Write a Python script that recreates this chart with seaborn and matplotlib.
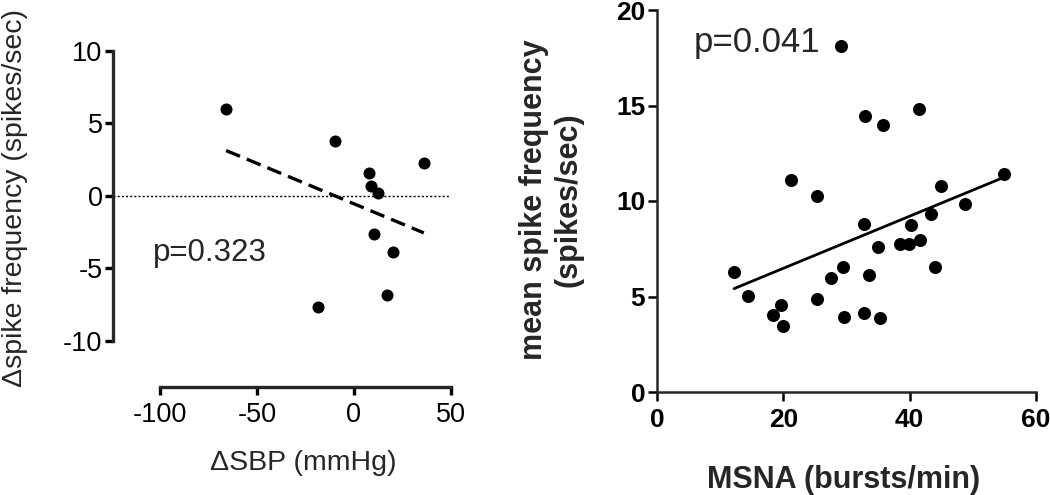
import numpy as np
import pandas as pd
import matplotlib
matplotlib.use("Agg")
import matplotlib.pyplot as plt
import seaborn as sns

# ---- data ----
sbp_change = [-65.9, -10.0, 7.7, 8.8, 12.2, 36.0, 10.1, 20.1, 17.0, -18.8]
spike_change = [6.01, 3.82, 1.59, 0.69, 0.18, 2.24, -2.65, -3.85, -6.84, -7.65]

msna = [29.1, 33.0, 35.8, 41.5, 55.0, 45.0, 48.75, 21.2, 25.3, 32.7,
        40.2, 43.4, 41.7, 38.4, 39.9, 35.0, 44.0, 29.5, 33.5, 27.6,
        12.2, 14.4, 25.3, 19.7, 18.4, 19.9, 29.6, 32.7, 35.3]
mean_spike = [18.1, 14.47, 13.99, 14.81, 11.43, 10.79, 9.83, 11.11, 10.24, 8.8,
              8.73, 9.30, 7.98, 7.73, 7.73, 7.59, 6.56, 6.52, 6.13, 5.99,
              6.28, 5.05, 4.85, 4.57, 4.05, 3.43, 3.95, 4.14, 3.88]

left_xticks = [-100, -50, 0, 50]
left_yticks = [-10, -5, 0, 5, 10]
right_xticks = [0, 20, 40, 60]
right_yticks = [0, 5, 10, 15, 20]

p_left = "p=0.323"
p_right = "p=0.041"

df_left = pd.DataFrame({"dSBP": sbp_change, "dspike": spike_change})
df_right = pd.DataFrame({"MSNA": msna, "spike": mean_spike})

sns.set_theme(style="ticks")
plt.rcParams["font.family"] = ["Liberation Sans", "DejaVu Sans"]

W, H = 1050, 495
fig = plt.figure(figsize=(W / 100, H / 100), dpi=100)

def box(x0, x1, ytop, ybot):
    return [x0 / W, 1 - ybot / H, (x1 - x0) / W, (ybot - ytop) / H]

# ---------------- left panel ----------------
axL = fig.add_axes(box(113, 451, 51, 387))
axL.axhline(0, color="black", lw=1.0, ls=(0, (1.5, 1.5)), zorder=1)
sns.regplot(data=df_left, x="dSBP", y="dspike", ax=axL, scatter=False, ci=None,
            line_kws=dict(color="black", lw=2.4, ls=(0, (4.5, 2.2))))
sns.scatterplot(data=df_left, x="dSBP", y="dspike", ax=axL, color="black",
                s=75, edgecolor="black", linewidth=0, zorder=3)
axL.set_xlim(-124.2, 50)
axL.set_ylim(-13.2, 10)
axL.set_xticks(left_xticks)
axL.set_yticks(left_yticks)
axL.set_xticklabels([str(v) for v in left_xticks])
axL.set_yticklabels([str(v) for v in left_yticks])
for s in ["top", "right"]:
    axL.spines[s].set_visible(False)
axL.spines["left"].set_bounds(-10, 10)
axL.spines["bottom"].set_bounds(-100, 50)
for s in ["left", "bottom"]:
    axL.spines[s].set_linewidth(2.4)
axL.tick_params(axis="both", width=2.4, length=5.5, labelsize=19.5, colors="black", pad=2)
axL.tick_params(axis="x", pad=5)
axL.set_xlabel("")
axL.set_ylabel("")
fig.text(15 / W, 1 - 198 / H, "\u0394spike frequency (spikes/sec)", rotation=90,
         ha="center", va="center", fontsize=20.5)
fig.text(303 / W, 1 - 463 / H, "\u0394SBP (mmHg)", ha="center", va="center", fontsize=20.5)
fig.text(153 / W, 1 - 261 / H, p_left, ha="left", va="baseline", fontsize=22.5)

# ---------------- right panel ----------------
axR = fig.add_axes(box(657, 1036, 10, 392))
sns.regplot(data=df_right, x="MSNA", y="spike", ax=axR, scatter=False, ci=None,
            line_kws=dict(color="black", lw=2.0))
sns.scatterplot(data=df_right, x="MSNA", y="spike", ax=axR, color="black",
                s=88, edgecolor="black", linewidth=0, zorder=3, clip_on=False)
axR.set_xlim(0, 60)
axR.set_ylim(0, 20)
axR.set_xticks(right_xticks)
axR.set_yticks(right_yticks)
axR.set_xticklabels([str(v) for v in right_xticks], fontweight="bold")
axR.set_yticklabels([str(v) for v in right_yticks], fontweight="bold")
for s in ["top", "right"]:
    axR.spines[s].set_visible(False)
for s in ["left", "bottom"]:
    axR.spines[s].set_linewidth(1.8)
axR.tick_params(axis="both", width=1.8, length=6.5, labelsize=19, colors="black", pad=2)
axR.tick_params(axis="x", pad=5)
axR.set_xlabel("")
axR.set_ylabel("")
fig.text(551 / W, 1 - 200 / H, "mean spike frequency\n(spikes/sec)", rotation=90,
         ha="center", va="center", multialignment="center", fontsize=22,
         fontweight="bold", linespacing=1.2)
fig.text(844 / W, 1 - 480 / H, "MSNA (bursts/min)", ha="center", va="center",
         fontsize=22, fontweight="bold")
fig.text(694 / W, 1 - 52 / H, p_right, ha="left", va="baseline", fontsize=25)

fig.savefig("out.png", dpi=100, facecolor="white")
